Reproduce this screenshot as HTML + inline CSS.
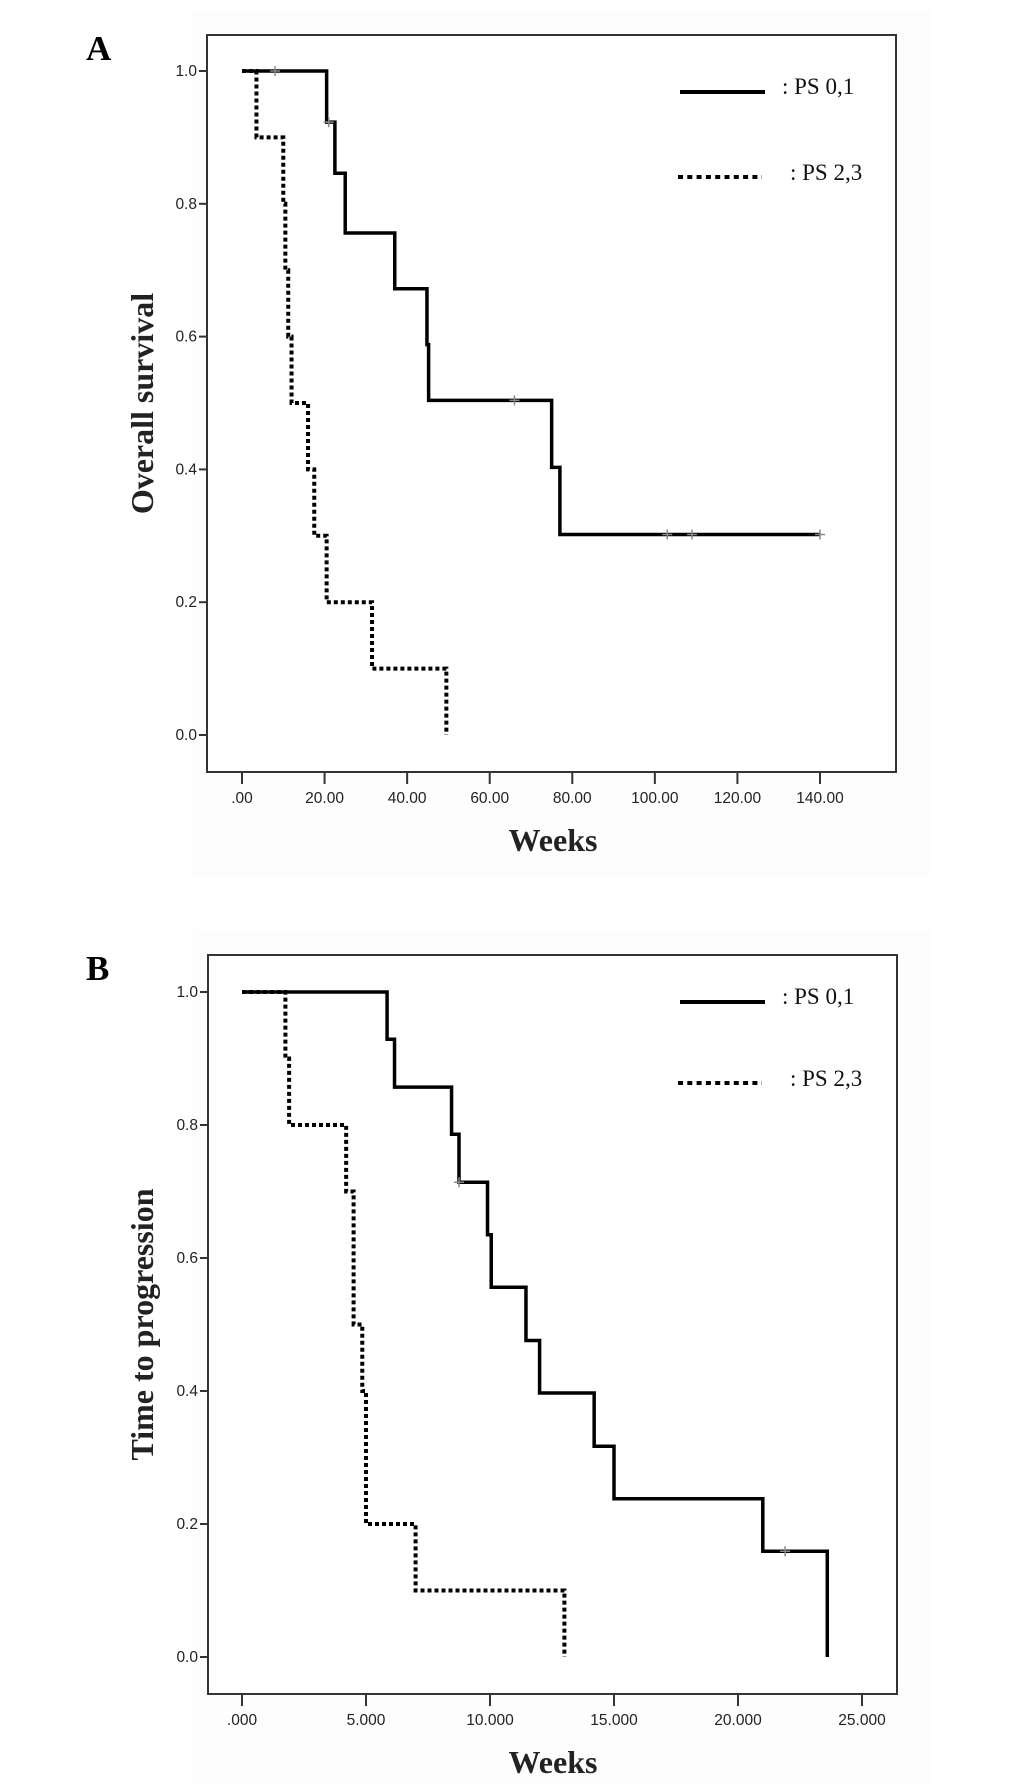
<!DOCTYPE html>
<html><head><meta charset="utf-8"><style>
body{margin:0;background:#fff;}
svg{display:block;}
.tk{font-family:"Liberation Sans",sans-serif;font-size:15.5px;fill:#222;}
.ttl{font-family:"Liberation Serif",serif;font-weight:bold;font-size:32px;fill:#222;}
.lg{font-family:"Liberation Serif",serif;font-size:23px;fill:#111;}
.pl{font-family:"Liberation Serif",serif;font-weight:bold;font-size:35px;fill:#000;}
</style></head><body>
<svg id="s" width="1033" height="1784" xmlns="http://www.w3.org/2000/svg"></svg>
<script>
// Panel A data (Overall survival)
const aTicksX = [0,20,40,60,80,100,120,140];
const aTickLabelsX = [".00","20.00","40.00","60.00","80.00","100.00","120.00","140.00"];
const aSolidT = [0,20.5,22.5,25,37,44.8,45.2,75,77,140];
const aSolidS = [1.0,0.923,0.846,0.756,0.672,0.588,0.504,0.403,0.302,0.302];
const aSolidCensT = [8,21,66,103,109,140];
const aSolidCensS = [1.0,0.923,0.504,0.302,0.302,0.302];
const aDashT = [0,3.5,10,10.5,11.2,12,16,17.5,20.5,31.5,49.5];
const aDashS = [1.0,0.9,0.8,0.7,0.6,0.5,0.4,0.3,0.2,0.1,0.0];
// Panel B data (Time to progression)
const bTicksX = [0,5,10,15,20,25];
const bTickLabelsX = [".000","5.000","10.000","15.000","20.000","25.000"];
const bSolidT = [0,5.85,6.15,8.45,8.75,9.9,10.05,11.45,12.0,14.2,15.0,21.0,23.6];
const bSolidS = [1.0,0.929,0.857,0.786,0.714,0.635,0.556,0.476,0.397,0.317,0.238,0.159,0.0];
const bSolidCensT = [8.75,21.9];
const bSolidCensS = [0.714,0.159];
const bDashT = [0,1.75,1.9,4.2,4.5,4.85,5.0,7.0,13.0];
const bDashS = [1.0,0.9,0.8,0.7,0.5,0.4,0.2,0.1,0.0];
const yTicks = [0,0.2,0.4,0.6,0.8,1.0];
const yTickLabels = ["0.0","0.2","0.4","0.6","0.8","1.0"];

const NS="http://www.w3.org/2000/svg";
const svg=document.getElementById('s');
function mk(tag,attrs,parent,text){const e=document.createElementNS(NS,tag);for(const k in attrs)e.setAttribute(k,attrs[k]);if(text!==undefined)e.textContent=text;(parent||svg).appendChild(e);return e;}

function panel(cfg){
  const g=mk('g',{});
  
  
  const fx=v=>cfg.x0+v*cfg.kx;
  const fy=v=>cfg.y0-v*(cfg.y0-cfg.y1);
  mk('rect',{x:cfg.L-15,y:cfg.T-25,width:cfg.R-cfg.L+50,height:cfg.B-cfg.T+130,fill:'#fdfdfd'},g);
  const fr=mk('rect',{x:cfg.L,y:cfg.T,width:cfg.R-cfg.L,height:cfg.B-cfg.T,fill:'#fff',stroke:'#333','stroke-width':2},g);
  
  
  yTicks.forEach((v,i)=>{
    const y=fy(v);
    mk('line',{x1:cfg.L-8,x2:cfg.L,y1:y,y2:y,stroke:'#333','stroke-width':2},g);
    const t=mk('text',{x:cfg.L-10,y:y+5,'text-anchor':'end',class:'tk'},g,yTickLabels[i]);
    
    
  });
  cfg.ticks.forEach((v,i)=>{
    const x=fx(v);
    mk('line',{x1:x,x2:x,y1:cfg.B,y2:cfg.B+12,stroke:'#333','stroke-width':2},g);
    const t=mk('text',{x:x,y:cfg.B+31,'text-anchor':'middle',class:'tk'},g,cfg.labels[i]);
    
    
  });
  function step(T,S,dash,name){
    let d='M'+fx(T[0])+','+fy(S[0]);
    for(let i=1;i<T.length;i++){d+=' H'+fx(T[i])+' V'+fy(S[i]);}
    const p=mk('path',{d:d,fill:'none',stroke:'#000','stroke-width':dash?4:3.5,'stroke-dasharray':dash||'none'},g);
    
    
  }
  step(cfg.sT,cfg.sS,null,'curve-ps-0-1-solid');
  step(cfg.dT,cfg.dS,'4,3','curve-ps-2-3-dotted');
  cfg.cT.forEach((t,i)=>{
    const x=fx(t),y=fy(cfg.cS[i]);
    const c=mk('path',{d:`M${x-5},${y} H${x+5} M${x},${y-5} V${y+5}`,stroke:'#888','stroke-width':1.5},g);
    
    
  });
  const l1=mk('line',{x1:680,x2:765,y1:cfg.lg1,y2:cfg.lg1,stroke:'#000','stroke-width':4},g);
  
  
  const t1=mk('text',{x:782,y:cfg.lg1+2,class:'lg'},g,': PS 0,1');
  
  
  const l2=mk('line',{x1:678,x2:762,y1:cfg.lg2,y2:cfg.lg2,stroke:'#000','stroke-width':4,'stroke-dasharray':'5,4.3'},g);
  
  
  const t2=mk('text',{x:790,y:cfg.lg2+3,class:'lg'},g,': PS 2,3');
  
  
  const xt=mk('text',{x:553,y:cfg.B+79,'text-anchor':'middle',class:'ttl'},g,'Weeks');
  
  
  const yc=(cfg.T+cfg.B)/2;
  const yt=mk('text',{x:0,y:0,'text-anchor':'middle',class:'ttl',transform:`translate(153,${yc}) rotate(-90)`},g,cfg.ytitle);
  
  
  const pl=mk('text',{x:86,y:cfg.T+25,class:'pl'},g,cfg.letter);
  
  
}
panel({name:'panel-a-overall-survival',L:207,R:896,T:35,B:772,x0:242,kx:(820-242)/140,y0:735,y1:71,
  ticks:aTicksX,labels:aTickLabelsX,sT:aSolidT,sS:aSolidS,dT:aDashT,dS:aDashS,cT:aSolidCensT,cS:aSolidCensS,
  lg1:92,lg2:177,ytitle:'Overall survival',letter:'A'});
panel({name:'panel-b-time-to-progression',L:208,R:897,T:955,B:1694,x0:242,kx:(862-242)/25,y0:1657,y1:992,
  ticks:bTicksX,labels:bTickLabelsX,sT:bSolidT,sS:bSolidS,dT:bDashT,dS:bDashS,cT:bSolidCensT,cS:bSolidCensS,
  lg1:1002,lg2:1083,ytitle:'Time to progression',letter:'B'});
</script>
</body></html>
